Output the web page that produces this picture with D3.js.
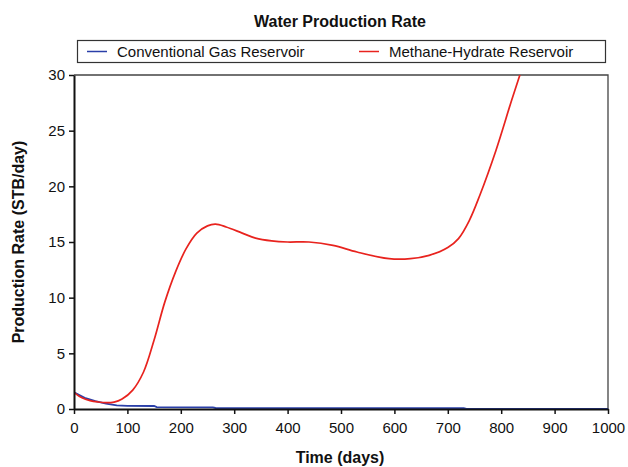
<!DOCTYPE html>
<html><head><meta charset="utf-8">
<script src="https://cdn.jsdelivr.net/npm/d3@7"></script>
<style>body{margin:0;background:#fff;} svg{display:block;font-family:"Liberation Sans",Arial,sans-serif;}</style>
</head><body>
<script>
const title = "Water Production Rate";
const xTitle = "Time (days)";
const yTitle = "Production Rate (STB/day)";
const seriesNames = ["Conventional Gas Reservoir", "Methane-Hydrate Reservoir"];
const xTicks = [0,100,200,300,400,500,600,700,800,900,1000];
const yTicks = [0,5,10,15,20,25,30];
const hydrateDays = [0,15,30,45,60,75,90,110,130,150,170,190,210,230,250,265,285,315,340,370,400,440,485,530,590,630,665,700,720,740,760,790,820,837,850];
const hydrateRate = [1.5,1.0,0.75,0.63,0.57,0.62,0.9,1.7,3.3,6.2,9.6,12.3,14.4,15.8,16.45,16.6,16.35,15.8,15.35,15.1,15.0,15.0,14.7,14.1,13.5,13.5,13.8,14.5,15.3,16.9,19.2,23.2,27.8,30.3,32.2];
const gasDays = [0,20,40,60,80,100,150,155,260,265,730,735,1000];
const gasRate = [1.5,1.0,0.7,0.48,0.33,0.28,0.27,0.17,0.15,0.09,0.07,0.02,0.02];

const W=628,H=467;
const svg=d3.select("body").append("svg").attr("width",W).attr("height",H);
const x=d3.scaleLinear().domain([0,1000]).range([74,608]);
const y=d3.scaleLinear().domain([0,30]).range([409,75]);

svg.append("defs").append("clipPath").attr("id","clip").append("rect")
  .attr("x",x(0)).attr("y",y(30)).attr("width",x(1000)-x(0)).attr("height",y(0)-y(30));

svg.append("path").attr("d",`M${x(0)},${y(30)}H${x(1000)}V${y(0)}`).attr("fill","none").attr("stroke","#444").attr("stroke-width",1.3);

const line=d3.line().x(d=>x(d[0])).y(d=>y(d[1])).curve(d3.curveCatmullRom.alpha(0.5));
const lineLin=d3.line().x(d=>x(d[0])).y(d=>y(d[1]));
const g=svg.append("g").attr("clip-path","url(#clip)");
g.append("path").datum(gasDays.map((d,i)=>[d,gasRate[i]])).attr("d",lineLin)
  .attr("fill","none").attr("stroke","#2a3fa8").attr("stroke-width",1.8);
g.append("path").datum(hydrateDays.map((d,i)=>[d,hydrateRate[i]])).attr("d",line)
  .attr("fill","none").attr("stroke","#e8231e").attr("stroke-width",1.7);

const xa=svg.append("g").attr("transform",`translate(0,${y(0)})`)
  .call(d3.axisBottom(x).tickValues(xTicks).tickSize(5).tickSizeOuter(0).tickFormat(d3.format("d")));
const ya=svg.append("g").attr("transform",`translate(${x(0)},0)`)
  .call(d3.axisLeft(y).tickValues(yTicks).tickSize(5).tickSizeOuter(0).tickFormat(d3.format("d")));
[xa,ya].forEach(a=>{
  a.select(".domain").attr("stroke","#111").attr("stroke-width",2);
  a.selectAll(".tick line").attr("stroke","#111").attr("stroke-width",1.5);
  a.selectAll(".tick text").attr("font-size",15).attr("fill","#111").attr("font-family","Liberation Sans, Arial, sans-serif");
});
xa.selectAll(".tick text").attr("dy","1.05em");
ya.selectAll(".tick text").attr("x",-9);

svg.append("text").attr("x",340).attr("y",27).attr("text-anchor","middle").attr("font-size",16).attr("font-weight","bold").attr("fill","#111").text(title);
svg.append("text").attr("x",340).attr("y",463).attr("text-anchor","middle").attr("font-size",16).attr("font-weight","bold").attr("fill","#111").text(xTitle);
svg.append("text").attr("transform",`translate(24,242) rotate(-90)`).attr("text-anchor","middle").attr("font-size",16).attr("font-weight","bold").attr("fill","#111").text(yTitle);

const lg=svg.append("g");
lg.append("rect").attr("x",77.5).attr("y",40.5).attr("width",528).attr("height",22).attr("fill","#fff").attr("stroke","#333").attr("stroke-width",1.2);
const colors=["#2a3fa8","#e8231e"];
const lx=[87,359];
seriesNames.forEach((n,i)=>{
  lg.append("line").attr("x1",lx[i]).attr("x2",lx[i]+20).attr("y1",51.5).attr("y2",51.5).attr("stroke",colors[i]).attr("stroke-width",1.5);
  lg.append("text").attr("x",lx[i]+30).attr("y",57).attr("font-size",15).attr("fill","#111").text(n);
});
</script>
</body></html>
